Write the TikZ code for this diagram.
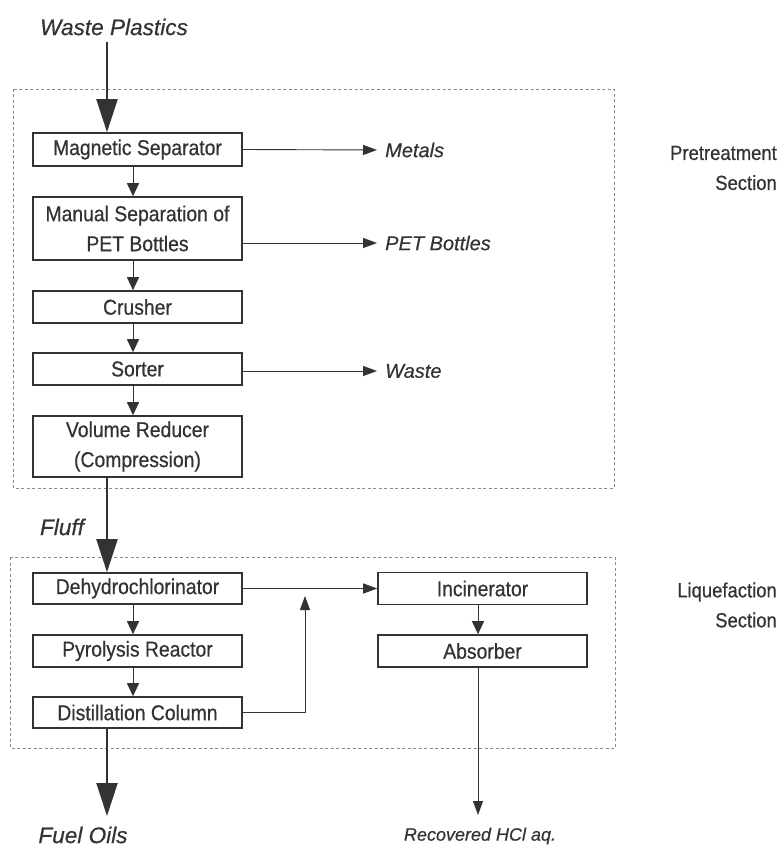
\documentclass[tikz,border=0pt]{standalone}
\usepackage{fontspec}
\setmainfont{Liberation Sans}
\newfontfamily\boxfont[FakeStretch=0.9,FakeBold=0.6]{Liberation Sans}
\newfontfamily\labfont[FakeBold=0.5]{Liberation Sans}
\usetikzlibrary{arrows.meta}
\definecolor{ink}{HTML}{333333}
\definecolor{dash}{HTML}{8A8A8A}
\begin{document}
\begin{tikzpicture}[x=1pt,y=-1pt,
  box/.style={draw=ink, line width=1.6pt, minimum width=209pt, inner sep=0pt, align=center,
    text=ink, font=\boxfont\fontsize{21.5}{30}\selectfont},
  lab/.style={inner sep=0pt, text=ink, font=\labfont\fontsize{20}{24}\selectfont\itshape},
  biglab/.style={inner sep=0pt, text=ink, font=\labfont\fontsize{22.6}{26}\selectfont\itshape},
  sect/.style={inner sep=0pt, text=ink, align=right, font=\boxfont\fontsize{20.5}{30}\selectfont},
  region/.style={draw=dash, line width=0.9pt, dash pattern=on 3pt off 2.5pt},
  flow/.style={draw=ink, line width=1pt, -{Triangle[width=12pt,length=13pt]}},
  side/.style={draw=ink, line width=0.9pt, -{Triangle[width=10pt,length=14pt]}},
  main/.style={draw=ink, line width=2pt, -{Triangle[width=21pt,length=33pt]}}
]
\useasboundingbox (0,0) rectangle (781,848);

% section frames
\draw[region] (13,89) rectangle (614,488);
\draw[region] (10,557) rectangle (615,748);

% reference x positions
\coordinate (fx) at (107,0);
\coordinate (cx) at (133,0);
\coordinate (hx) at (478,0);

% labels
\node[biglab] (wp) at (114,27) {Waste Plastics};
\node[biglab] (fluff) at (62,527) {Fluff};
\node[biglab] (fuel) at (83,835) {Fuel Oils};
\node[lab, font=\labfont\fontsize{18}{22}\selectfont\itshape] (hcl) at (480,836) {Recovered HCl aq.};
\node[lab, anchor=west] (metals) at (385,150) {Metals};
\node[lab, anchor=west] (pet) at (385,243) {PET Bottles};
\node[lab, anchor=west] (waste) at (385,371) {Waste};
\node[sect, anchor=east] (pre) at (777,168) {Pretreatment\\Section};
\node[sect, anchor=east] (liq) at (777,605) {Liquefaction\\Section};

% pretreatment boxes
\node[box, minimum height=33pt] (mag) at (137.5,149.5) {Magnetic Separator};
\node[box, minimum height=63pt] (man) at (137.5,228.5) {Manual Separation of\\PET Bottles};
\node[box, minimum height=32pt] (cru) at (137.5,307) {Crusher};
\node[box, minimum height=32pt] (sor) at (137.5,369) {Sorter};
\node[box, minimum height=61pt] (vol) at (137.5,446.5) {Volume Reducer\\(Compression)};

% liquefaction boxes
\node[box, minimum height=31pt] (deh) at (137.5,588.5) {Dehydrochlorinator};
\node[box, minimum height=32pt] (pyr) at (137.5,651) {Pyrolysis Reactor};
\node[box, minimum height=31pt] (dis) at (137.5,712.5) {Distillation Column};
\node[box, minimum height=32pt] (inc) at (482.5,588.5) {Incinerator};
\node[box, minimum height=32pt] (abs) at (482.5,651) {Absorber};

\coordinate (jn) at (305,596);
\coordinate (ftip) at (107,816);
\coordinate (htip) at (478,815);
\coordinate (wtop) at (107,42);

% main stream
\draw[main] (wtop) -- (mag.north -| fx);
\draw[main] (vol.south -| fx) -- (deh.north -| fx);
\draw[main] (dis.south -| fx) -- (ftip);

% internal flows
\draw[flow] (mag.south -| cx) -- (man.north -| cx);
\draw[flow] (man.south -| cx) -- (cru.north -| cx);
\draw[flow] (cru.south -| cx) -- (sor.north -| cx);
\draw[flow] (sor.south -| cx) -- (vol.north -| cx);
\draw[flow] (deh.south -| cx) -- (pyr.north -| cx);
\draw[flow] (pyr.south -| cx) -- (dis.north -| cx);
\draw[flow] (inc.south -| hx) -- (abs.north -| hx);

% side streams
\draw[side] (mag.east) -- ([xshift=-8pt]metals.west);
\draw[side] (man.east |- pet.west) -- ([xshift=-8pt]pet.west);
\draw[side] (sor.east |- waste.west) -- ([xshift=-8pt]waste.west);
\draw[side] (deh.east) -- (inc.west);
\draw[side] (dis.east) -| (jn);
\draw[side] (abs.south -| hx) -- (htip);
\end{tikzpicture}
\end{document}
